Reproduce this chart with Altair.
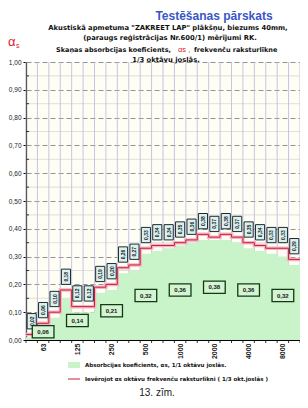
import altair as alt
import pandas as pd

# ---- data ----
bands = ["50", "63", "80", "100", "125", "160", "200", "250", "315", "400", "500", "630",
         "800", "1000", "1250", "1600", "2000", "2500", "3150", "4000", "5000", "6300", "8000", "10000"]
third_vals = [0.02, 0.06, 0.10, 0.18, 0.12, 0.12, 0.19, 0.20, 0.26, 0.27, 0.33, 0.34,
              0.34, 0.35, 0.36, 0.38, 0.37, 0.38, 0.37, 0.35, 0.34, 0.33, 0.33, 0.29]
green_vals = [0.01, 0.04, 0.08, 0.15, 0.10, 0.10, 0.17, 0.18, 0.24, 0.25, 0.31, 0.32,
              0.33, 0.34, 0.35, 0.36, 0.36, 0.36, 0.35, 0.33, 0.32, 0.31, 0.30, 0.27]
octave_bands = ["63", "125", "250", "500", "1000", "2000", "4000", "8000"]
octave_vals = [0.06, 0.14, 0.21, 0.32, 0.36, 0.38, 0.36, 0.32]
y_ticks = [0.0, 0.1, 0.2, 0.3, 0.4, 0.5, 0.6, 0.7, 0.8, 0.9, 1.0]
y_minor = [0.05, 0.15, 0.25, 0.35, 0.45, 0.55, 0.65, 0.75, 0.85, 0.95]

title = "Testēšanas  pārskats"
sub1 = "Akustiskā apmetuma \"ZAKREET LAP\" plākšņu, biezums 40mm,"
sub2 = "(paraugs reģistrācijas Nr.600/1) mērījumi RK."
sub3a = "Skaņas absorbcijas koeficients,"
sub3b = "αs ,"
sub3c = "frekvenču raksturlīkne"
sub4 = "1/3 oktāvu joslās."
leg1 = "Absorbcijas koeficients, αs, 1/1 oktāvu joslās."
leg2 = "Ievērojot αs oktāvu frekvenču raksturlīkni ( 1/3 okt.joslās )"
caption = "13. zīm."

W, H = 274, 278
n = len(bands)
FONT = "Liberation Sans"
FONT2 = "DejaVu Sans"

band_df = pd.DataFrame({"i": list(range(n)), "band": bands, "v": third_vals})
# step-after series: one point at each band start, plus the closing edge
step_df = pd.DataFrame({"x": list(range(n)) + [n],
                        "v": third_vals + [third_vals[-1]],
                        "g": green_vals + [green_vals[-1]]})
oct_df = pd.DataFrame({"band": octave_bands, "v": octave_vals,
                       "i": [bands.index(b) for b in octave_bands]})
edges_df = pd.DataFrame({"e": list(range(n + 1))})
minor_df = pd.DataFrame({"y": y_minor})
one = pd.DataFrame({"k": [0]})

xs = alt.Scale(domain=[0, n], nice=False, zero=False)
ys = alt.Scale(domain=[0, 1], nice=False, zero=False)

band_arr = "[" + ",".join("'%s'" % b for b in bands) + "]"
x_axis = alt.Axis(values=[bands.index(b) + 0.5 for b in octave_bands],
                  labelExpr=band_arr + "[floor(datum.value)]",
                  labelAngle=270, labelFontSize=7, labelFontWeight="bold",
                  labelPadding=3, ticks=False, grid=False, domainColor="black",
                  labelColor="#222", title=None, labelFont=FONT)
y_axis = alt.Axis(values=y_ticks, labelExpr="replace(format(datum.value,'.2f'),'.',',')",
                  grid=True, gridDash=[5, 3], gridColor="#777", gridWidth=0.8,
                  domainColor="black", domainWidth=1.2, tickColor="black", tickSize=3,
                  labelFontSize=6.5, labelPadding=2, labelColor="#222", title=None,
                  labelFont=FONT)


def X(f):
    return alt.X(f, scale=xs, axis=x_axis)


def Y(f):
    return alt.Y(f, scale=ys, axis=y_axis)


# light horizontal lines at half-steps
half_grid = alt.Chart(minor_df).mark_rule(color="#d8d8d8", strokeWidth=0.8).encode(
    y=Y("y:Q"))
# vertical band boundaries
vgrid = alt.Chart(edges_df).mark_rule(color="#c4bce0", strokeWidth=0.9).encode(
    x=X("e:Q"), y=alt.value(0), y2=alt.value(H))
minor_ticks = alt.Chart(minor_df).mark_rule(color="black", strokeWidth=0.8).encode(
    y=Y("y:Q"), x=alt.value(0), x2=alt.value(3))
x_ticks = alt.Chart(edges_df).mark_rule(color="black", strokeWidth=0.8).encode(
    x=X("e:Q"), y=alt.value(H), y2=alt.value(H + 3))

area = alt.Chart(step_df).mark_area(color="#c9f3c9", opacity=1, interpolate="step-after").encode(
    x=X("x:Q"), y=alt.Y("g:Q", scale=ys, axis=y_axis, stack=None))
red_halo = alt.Chart(step_df).mark_line(color="#f4b4c4", strokeWidth=3.5,
                                        interpolate="step-after").encode(
    x=X("x:Q"), y=Y("v:Q"))
red_line = alt.Chart(step_df).mark_line(color="#c8203c", strokeWidth=1,
                                        interpolate="step-after").encode(
    x=X("x:Q"), y=Y("v:Q"))

band_base = alt.Chart(band_df).transform_calculate(
    x1="datum.i + 0.1", x2="datum.i + 0.9", c="datum.i + 0.5",
    y1="datum.v + 0.02", y2="datum.v + 0.075", ym="datum.v + 0.0475",
    lab="replace(format(datum.v,'.2f'),'.',',')")
band_box = band_base.mark_rect(fill="#dcf0f0", stroke="#1c2c2c", strokeWidth=1).encode(
    x=X("x1:Q"), x2="x2:Q", y=Y("y1:Q"), y2="y2:Q")
band_txt = band_base.mark_text(angle=270, fontSize=5, fontWeight="bold", color="#102020",
                               font=FONT).encode(
    x=X("c:Q"), y=Y("ym:Q"), text="lab:N")

oct_base = alt.Chart(oct_df).transform_calculate(
    x1="datum.i + 0.5 - 0.95", x2="datum.i + 0.5 + 0.95", c="datum.i + 0.5",
    y1="datum.v / 2 - 0.022", y2="datum.v / 2 + 0.022", ym="datum.v / 2",
    lab="replace(format(datum.v,'.2f'),'.',',')")
oct_box = oct_base.mark_rect(fill="#d4f4d4", stroke="#123a12", strokeWidth=1.3).encode(
    x=X("x1:Q"), x2="x2:Q", y=Y("y1:Q"), y2="y2:Q")
oct_txt = oct_base.mark_text(fontSize=6, fontWeight="bold", color="#102010", font=FONT).encode(
    x=X("c:Q"), y=Y("ym:Q"), text="lab:N")


def txt(s, x, y, size=7, color="#111", weight="bold", align="center", font=FONT2):
    return alt.Chart(one).mark_text(fontSize=size, color=color, fontWeight=weight,
                                    align=align, baseline="middle", font=font).encode(
        x=alt.value(x), y=alt.value(y), text=alt.value(s))


titles = [
    txt(title, 188, -46, size=12, color="#3a55c8", font=FONT),
    txt(sub1, 142, -34, size=6.8),
    txt(sub2, 144, -24, size=6.8),
    txt(sub3a, 30, -12, size=6.5, align="left"),
    txt(sub3b, 152, -12, size=7.5, color="#e02030", weight="normal", align="left", font=FONT),
    txt(sub3c, 168, -12, size=6.5, align="left"),
    txt(sub4, 140, -2, size=6.8),
    txt("α", -18, -20, size=13, color="#e02030", weight="normal", align="left", font=FONT),
    txt("s", -10, -16, size=7, color="#e02030", weight="normal", align="left", font=FONT),
    txt(leg1, 59, 303, size=5.5, align="left"),
    txt(leg2, 59, 317, size=5.5, align="left"),
    txt(caption, 131, 331, size=10, color="#222", weight="normal", font=FONT),
]
sw_green = alt.Chart(one).mark_rect(color="#c9f3c9").encode(
    x=alt.value(42), x2=alt.value(54), y=alt.value(300), y2=alt.value(306))
sw_red = alt.Chart(one).mark_rule(color="#c8203c", strokeWidth=1).encode(
    x=alt.value(42), x2=alt.value(54), y=alt.value(317))

chart = alt.layer(
    half_grid, vgrid, area, red_halo, red_line, minor_ticks, x_ticks,
    band_box, band_txt, oct_box, oct_txt, sw_green, sw_red, *titles
).properties(
    width=W, height=H,
    autosize=alt.AutoSizeParams(type="none"),
    padding={"left": 18, "top": 54, "right": 0, "bottom": 60},
    background="white",
).configure_view(stroke=None, fill="#fefef4")

chart.save("out.html", embed_options={"renderer": "svg", "actions": False})
